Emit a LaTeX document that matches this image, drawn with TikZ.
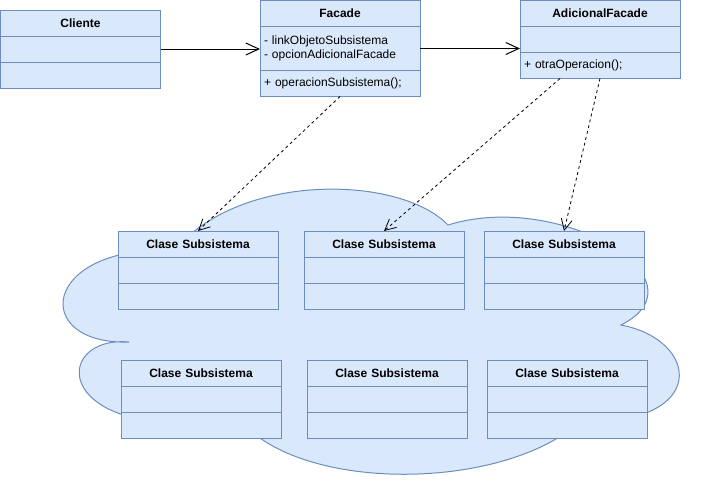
\documentclass[tikz,border=0pt]{standalone}
\usepackage{fontspec}
\setmainfont{Liberation Sans}
\usetikzlibrary{positioning, calc, arrows.meta}
\definecolor{umlfill}{HTML}{DAE8FC}
\definecolor{umlline}{HTML}{6C8EBF}
\tikzset{
  classbox/.style={draw=umlline, fill=umlfill, line width=1pt, inner sep=0pt, inner xsep=4pt,
    outer sep=0pt, text width=152pt, font=\fontsize{12pt}{13.5pt}\selectfont},
  classhead/.style={classbox, minimum height=26pt, align=center,
    font=\fontsize{12pt}{13.5pt}\selectfont\bfseries},
  classsec/.style={classbox, minimum height=26pt, align=left},
  assoc/.style={-{Straight Barb[length=13pt,width=12pt]}, line width=1pt},
  depend/.style={-{Straight Barb[length=11pt,width=11pt]}, line width=0.8pt, dash pattern=on 3pt off 3pt}
}

\begin{document}
\begin{tikzpicture}[x=1pt, y=-1pt]
    \useasboundingbox (0,0) rectangle (706,491);

    % Subsystem cloud
    \draw[draw=umlline, fill=umlfill, line width=1pt]
        (175,250) .. controls (40,245) and (30,345) .. (129,342)
        .. controls (50,335) and (50,445) .. (240,420)
        .. controls (300,492) and (500,492) .. (580,422)
        .. controls (710,425) and (700,340) .. (621,325)
        .. controls (710,280) and (560,190) .. (448,225)
        .. controls (400,175) and (240,172) .. cycle;

    % Client
    \node[classhead, anchor=north] (cli) at (80.5,10) {Cliente};
    \node[classsec, below=0pt of cli] (cli-a) {};
    \node[classsec, below=0pt of cli-a] (cli-m) {};

    % Facade
    \node[classhead, anchor=north] (fac) at (340,0.5) {Facade};
    \node[classsec, below=0pt of fac, minimum height=44pt] (fac-a) {- linkObjetoSubsistema\\- opcionAdicionalFacade};
    \node[classsec, below=0pt of fac-a] (fac-m) {+ operacionSubsistema();};

    % Additional facade
    \node[classhead, anchor=north] (adi) at (600,0.5) {AdicionalFacade};
    \node[classsec, below=0pt of adi] (adi-a) {};
    \node[classsec, below=0pt of adi-a] (adi-m) {+ otraOperacion();};

    % Subsystem classes
    \foreach \n/\x/\y in {1/198/231, 2/384/231, 3/564/231, 4/201/360, 5/387/360, 6/567/360} {
        \node[classhead, anchor=north] (sub\n) at (\x,\y) {Clase Subsistema};
        \node[classsec, below=0pt of sub\n] (sub\n-a) {};
        \node[classsec, below=0pt of sub\n-a] (sub\n-m) {};
    }

    % Associations
    \draw[assoc] (cli-a.east) -- (cli-a.east -| fac-a.west);
    \draw[assoc] (fac-a.east) -- (fac-a.east -| adi-a.west);

    % Dependencies
    \draw[depend] (fac-m.south) -- (sub1.north);
    \draw[depend] ([xshift=-40pt]adi-m.south) -- (sub2.north);
    \draw[depend] (adi-m.south) -- (sub3.north);
\end{tikzpicture}
\end{document}
